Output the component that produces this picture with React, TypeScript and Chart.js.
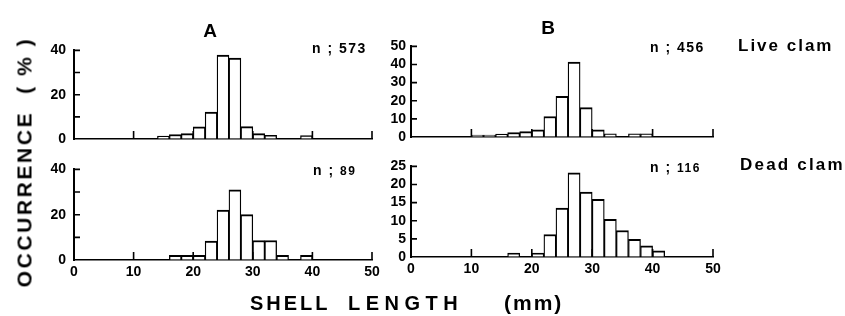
import React, { useEffect, useRef } from 'react';
import { Chart, registerables } from 'chart.js';

Chart.register(...registerables);

// Lower edge (mm) of each 2-mm shell-length class
const BIN_STARTS = [10, 12, 14, 16, 18, 20, 22, 24, 26, 28, 30, 32, 34, 36, 38, 40];
const BIN_WIDTH = 2;

// Occurrence (%) per class
const LIVE_A = [0, 0, 1.3, 2.0, 2.4, 5.5, 12.2, 37.9, 36.5, 5.6, 2.4, 1.7, 0, 0, 1.5, 0];
const LIVE_B = [1.1, 1.1, 1.6, 2.5, 3.0, 3.9, 11.3, 22.4, 41.4, 16.2, 3.9, 1.8, 0, 1.8, 1.8, 0];
const DEAD_A = [0, 0, 0, 2.1, 2.1, 2.1, 8.3, 22.0, 31.0, 20.0, 8.6, 8.6, 2.1, 0, 2.1, 0];
const DEAD_B = [0, 0, 0, 1.1, 0, 1.1, 6.2, 13.5, 23.2, 17.9, 15.9, 10.4, 7.3, 4.9, 3.1, 1.7];

const X_MIN = 0;
const X_MAX = 50;
const X_STEP = 10;

const FONT = '"Liberation Sans", Arial, Helvetica, sans-serif';

const AX_W = 44;
const PAD_T = 10;
const PAD_R = 16;
const AX_H = 26;

const inwardTicks = {
  id: 'inwardTicks',
  afterDraw(chart: any) {
    const { ctx, chartArea, scales } = chart;
    const { left, bottom } = chartArea;
    ctx.save();
    ctx.strokeStyle = '#000';
    ctx.lineWidth = 1.6;
    ctx.beginPath();
    scales.y.ticks.forEach((t: any) => {
      if (t.value <= 0) return;
      const py = scales.y.getPixelForValue(t.value);
      ctx.moveTo(left, py);
      ctx.lineTo(left + 6, py);
    });
    scales.x.ticks.forEach((t: any) => {
      if (t.value <= 0) return;
      const px = scales.x.getPixelForValue(t.value);
      ctx.moveTo(px, bottom);
      ctx.lineTo(px, bottom - 8);
    });
    ctx.stroke();
    ctx.restore();
  },
};

type Rect = { left: number; top: number; w: number; h: number };

function Panel(props: {
  values: number[];
  yMax: number;
  yStep: number;
  yLabelEvery: number;
  showX: boolean;
  rect: Rect;
  yPad: number;
}) {
  const { values, yMax, yStep, yLabelEvery, showX, rect, yPad } = props;
  const ref = useRef<HTMLCanvasElement>(null);
  const cw = AX_W + rect.w + PAD_R;
  const ch = PAD_T + rect.h + AX_H;

  useEffect(() => {
    const chart = new Chart(ref.current as HTMLCanvasElement, {
      type: 'bar',
      data: {
        datasets: [
          {
            data: BIN_STARTS.map((s, i) => ({ x: s + BIN_WIDTH / 2, y: values[i] })),
            backgroundColor: '#fff',
            borderColor: '#000',
            borderWidth: { top: 2, left: 1.3, right: 1.3, bottom: 0 },
            borderSkipped: 'start',
            barPercentage: 1,
            categoryPercentage: 1,
          } as any,
        ],
      },
      options: {
        animation: false,
        responsive: false,
        maintainAspectRatio: false,
        devicePixelRatio: 1,
        layout: { padding: { left: 0, top: PAD_T, right: PAD_R, bottom: 0 } },
        plugins: { legend: { display: false }, tooltip: { enabled: false } },
        scales: {
          x: {
            type: 'linear',
            min: X_MIN,
            max: X_MAX,
            offset: false,
            grid: { drawOnChartArea: false, drawTicks: false, offset: false },
            border: { display: true, color: '#000', width: 1.5 },
            ticks: {
              display: showX,
              stepSize: X_STEP,
              autoSkip: false,
              padding: 4,
              color: '#000',
              font: { family: FONT, size: 14, weight: 'bold' },
              maxRotation: 0,
            },
            afterFit: (s: any) => {
              s.height = AX_H;
            },
          } as any,
          y: {
            min: 0,
            max: yMax,
            grid: { drawOnChartArea: false, drawTicks: false },
            border: { display: true, color: '#000', width: 2 },
            ticks: {
              stepSize: yStep,
              autoSkip: false,
              padding: yPad,
              color: '#000',
              font: { family: FONT, size: 14, weight: 'bold' },
              callback: (v: any) => (Number(v) % yLabelEvery === 0 ? String(v) : ''),
            },
            afterFit: (s: any) => {
              s.width = AX_W;
            },
          } as any,
        },
      },
      plugins: [inwardTicks],
    });
    return () => chart.destroy();
  }, []);

  return (
    <canvas
      ref={ref}
      width={cw}
      height={ch}
      style={{ position: 'absolute', left: rect.left - AX_W, top: rect.top - PAD_T, width: cw, height: ch }}
    />
  );
}

function Txt(props: {
  x: number;
  base: number;
  size: number;
  children: React.ReactNode;
  spacing?: number;
  anchor?: 'left' | 'center';
}) {
  const { x, base, size, children, spacing = 0, anchor = 'left' } = props;
  return (
    <div
      style={{
        position: 'absolute',
        left: x,
        top: base - 0.8465 * size,
        fontFamily: FONT,
        fontWeight: 'bold',
        fontSize: size,
        lineHeight: `${size}px`,
        letterSpacing: spacing,
        whiteSpace: 'pre',
        color: '#000',
        transform: anchor === 'center' ? 'translateX(-50%)' : undefined,
      }}
    >
      {children}
    </div>
  );
}

export default function App() {
  return (
    <div
      style={{
        position: 'absolute',
        left: 0,
        top: 0,
        width: 845,
        height: 316,
        background: '#fff',
        overflow: 'hidden',
      }}
    >
      <Panel values={LIVE_A} yMax={40} yStep={10} yLabelEvery={20} showX={false} rect={{ left: 74, top: 44, w: 298, h: 95 }} yPad={8} />
      <Panel values={LIVE_B} yMax={50} yStep={10} yLabelEvery={10} showX={false} rect={{ left: 411, top: 43, w: 302, h: 94 }} yPad={5} />
      <Panel values={DEAD_A} yMax={40} yStep={10} yLabelEvery={20} showX={true} rect={{ left: 74, top: 163, w: 298, h: 97 }} yPad={8} />
      <Panel values={DEAD_B} yMax={25} yStep={5} yLabelEvery={5} showX={true} rect={{ left: 411, top: 163, w: 302, h: 94 }} yPad={5} />

      <Txt x={210} base={37} size={19} anchor="center">A</Txt>
      <Txt x={548} base={34} size={19} anchor="center">B</Txt>

      <Txt x={312} base={53} size={14} spacing={1.5}>n ; 573</Txt>
      <Txt x={650} base={52} size={14} spacing={1.5}>n ; 456</Txt>
      <Txt x={313} base={175} size={14} spacing={1.5}>
        n ; <span style={{ fontSize: 12 }}>89</span>
      </Txt>
      <Txt x={650} base={172} size={14} spacing={1.5}>
        n ; <span style={{ fontSize: 12 }}>116</span>
      </Txt>

      <Txt x={738} base={51} size={17} spacing={2}>Live clam</Txt>
      <Txt x={740} base={170} size={17} spacing={2.2}>Dead clam</Txt>

      <Txt x={250} base={310} size={20} spacing={3}>SHELL</Txt>
      <Txt x={348} base={310} size={20} spacing={5.5}>LENGTH</Txt>
      <Txt x={504} base={310} size={21} spacing={2}>(mm)</Txt>

      <div
        style={{
          position: 'absolute',
          left: 24,
          top: 162,
          transform: 'translate(-50%, -50%) rotate(-90deg)',
          fontFamily: FONT,
          fontWeight: 'bold',
          fontSize: 21,
          lineHeight: '21px',
          letterSpacing: 2.6,
          whiteSpace: 'pre',
          color: '#000',
        }}
      >
        {'OCCURRENCE  ( % )'}
      </div>
    </div>
  );
}
